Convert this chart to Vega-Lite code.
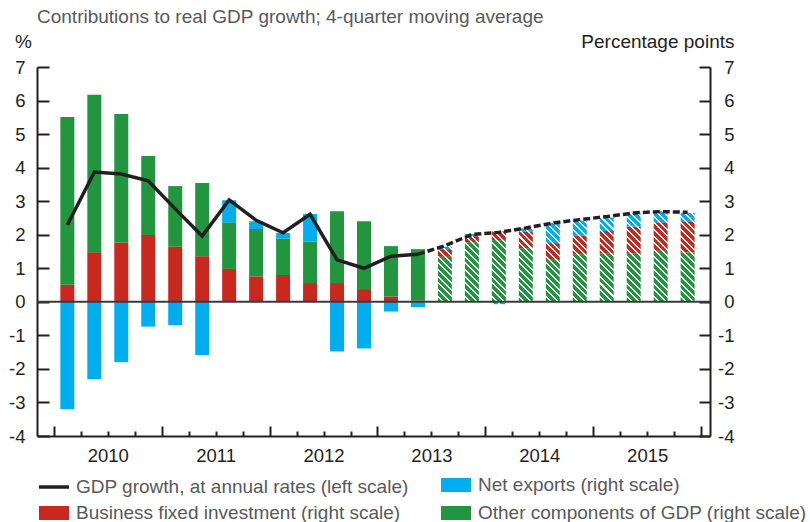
{
  "$schema": "https://vega.github.io/schema/vega-lite/v6.json",
  "width": 673,
  "height": 369,
  "autosize": {"type": "none"},
  "padding": {"left": 37, "top": 67, "right": 100, "bottom": 86},
  "background": "#ffffff",
  "config": {"view": {"stroke": null}, "font": "Liberation Sans"},
  "title": {"text": "Contributions to real GDP growth; 4-quarter moving average", "anchor": "start", "frame": "group", "orient": "top", "offset": 10, "dy": 20, "baseline": "alphabetic", "font": "Liberation Sans", "fontSize": 19, "fontWeight": "normal", "color": "#58595b"},
  "data": {"values": [
    {"q": 2010.125, "bfi": 0.51, "oth": 5.00, "net": -3.20, "gdp": 2.29, "phase": "actual"},
    {"q": 2010.375, "bfi": 1.48, "oth": 4.69, "net": -2.31, "gdp": 3.87, "phase": "actual"},
    {"q": 2010.625, "bfi": 1.77, "oth": 3.83, "net": -1.80, "gdp": 3.81, "phase": "actual"},
    {"q": 2010.875, "bfi": 1.99, "oth": 2.36, "net": -0.74, "gdp": 3.61, "phase": "actual"},
    {"q": 2011.125, "bfi": 1.64, "oth": 1.81, "net": -0.70, "gdp": 2.77, "phase": "actual"},
    {"q": 2011.375, "bfi": 1.36, "oth": 2.18, "net": -1.59, "gdp": 1.96, "phase": "actual"},
    {"q": 2011.625, "bfi": 0.98, "oth": 1.39, "net": 0.66, "gdp": 3.04, "phase": "actual"},
    {"q": 2011.875, "bfi": 0.76, "oth": 1.41, "net": 0.23, "gdp": 2.43, "phase": "actual"},
    {"q": 2012.125, "bfi": 0.80, "oth": 1.09, "net": 0.16, "gdp": 2.06, "phase": "actual"},
    {"q": 2012.375, "bfi": 0.56, "oth": 1.24, "net": 0.82, "gdp": 2.61, "phase": "actual"},
    {"q": 2012.625, "bfi": 0.56, "oth": 2.14, "net": -1.48, "gdp": 1.25, "phase": "actual"},
    {"q": 2012.875, "bfi": 0.38, "oth": 2.02, "net": -1.39, "gdp": 1.00, "phase": "actual"},
    {"q": 2013.125, "bfi": 0.16, "oth": 1.50, "net": -0.29, "gdp": 1.36, "phase": "actual"},
    {"q": 2013.375, "bfi": 0.04, "oth": 1.53, "net": -0.16, "gdp": 1.42, "phase": "actual"},
    {"q": 2013.625, "bfi": 0.23, "oth": 1.34, "net": 0.07, "gdp": 1.67, "phase": "forecast"},
    {"q": 2013.875, "bfi": 0.18, "oth": 1.78, "net": 0.06, "gdp": 2.01, "phase": "forecast"},
    {"q": 2014.125, "bfi": 0.26, "oth": 1.84, "net": -0.07, "gdp": 2.07, "phase": "forecast"},
    {"q": 2014.375, "bfi": 0.50, "oth": 1.60, "net": 0.09, "gdp": 2.20, "phase": "forecast"},
    {"q": 2014.625, "bfi": 0.50, "oth": 1.25, "net": 0.60, "gdp": 2.35, "phase": "forecast"},
    {"q": 2014.875, "bfi": 0.56, "oth": 1.42, "net": 0.44, "gdp": 2.45, "phase": "forecast"},
    {"q": 2015.125, "bfi": 0.66, "oth": 1.45, "net": 0.40, "gdp": 2.54, "phase": "forecast"},
    {"q": 2015.375, "bfi": 0.79, "oth": 1.45, "net": 0.40, "gdp": 2.65, "phase": "forecast"},
    {"q": 2015.625, "bfi": 0.85, "oth": 1.52, "net": 0.33, "gdp": 2.69, "phase": "forecast"},
    {"q": 2015.875, "bfi": 0.91, "oth": 1.47, "net": 0.27, "gdp": 2.67, "phase": "forecast"}
  ]},
  "layer": [
    {
      "transform": [
        {"filter": "datum.phase === 'actual'"},
        {"fold": ["bfi", "oth", "net"], "as": ["series", "value"]},
        {"calculate": "indexof(['bfi','oth','net'], datum.series)", "as": "ord"}
      ],
      "mark": {"type": "bar", "orient": "vertical", "size": 14},
      "encoding": {
        "x": {"field": "q", "type": "quantitative", "scale": {"domain": [2009.89, 2016.036], "nice": false, "zero": false},
          "axis": {"orient": "bottom", "values": [2010.5, 2011.5, 2012.5, 2013.5, 2014.5, 2015.5], "ticks": false, "grid": false, "domain": true, "domainColor": "#231f20", "domainWidth": 2, "labelExpr": "floor(datum.value)", "labelFont": "Liberation Sans", "labelFontSize": 18.5, "labelColor": "#231f20", "labelPadding": 25, "labelBaseline": "alphabetic", "labelFlush": false, "labelOverlap": false, "title": null}},
        "y": {"field": "value", "type": "quantitative", "stack": "zero", "scale": {"domain": [-4, 7], "nice": false, "zero": false},
          "axis": {"orient": "right", "values": [-4, -3, -2, -1, 0, 1, 2, 3, 4, 5, 6, 7], "tickSize": -11, "tickWidth": 2, "tickColor": "#231f20", "domainColor": "#231f20", "domainWidth": 2, "labelExpr": "'' + datum.value", "labelFont": "Liberation Sans", "labelFontSize": 18.5, "labelColor": "#231f20", "labelAlign": "right", "labelPadding": 35, "labelFlush": false, "grid": false, "title": "Percentage points", "titleAngle": 0, "titleFont": "Liberation Sans", "titleFontSize": 19, "titleFontWeight": "normal", "titleColor": "#231f20", "titleAlign": "right", "titleBaseline": "alphabetic", "titleX": 24, "titleY": -20}},
        "color": {"field": "series", "type": "nominal",
          "scale": {"domain": ["gdp", "bfi", "net", "oth"], "range": ["#231f20", "#c8281e", "#00aeef", "#22963f"]},
          "legend": {"orient": "none", "legendX": 4, "legendY": 405, "columns": 2, "columnPadding": 24, "rowPadding": 0, "padding": 0, "title": null,
            "symbolSize": 484, "symbolType": "M-1.364,-0.636H1.364V0.636H-1.364Z", "labelFont": "Liberation Sans", "labelFontSize": 19, "labelColor": "#58595b", "labelOffset": 9, "labelLimit": 0,
            "labelExpr": "datum.value === 'gdp' ? 'GDP growth, at annual rates (left scale)' : datum.value === 'net' ? 'Net exports (right scale)' : datum.value === 'bfi' ? 'Business fixed investment (right scale)' : 'Other components of GDP (right scale)'",
            "encode": {"symbols": {"update": {
              "shape": {"signal": "datum.value === 'gdp' ? 'M-1.364,0H1.364' : 'M-1.364,-0.636H1.364V0.636H-1.364Z'"},
              "stroke": {"signal": "datum.value === 'gdp' ? '#231f20' : 'transparent'"},
              "strokeWidth": {"value": 3.5}}}}}},
        "order": {"field": "ord", "type": "quantitative"}
      }
    },
    {
      "transform": [
        {"filter": "datum.phase === 'forecast'"},
        {"fold": ["bfi", "oth", "net"], "as": ["series", "value"]},
        {"calculate": "indexof(['oth','bfi','net'], datum.series)", "as": "ord"}
      ],
      "mark": {"type": "bar", "orient": "vertical", "size": 14,
        "fill": {"expr": "{gradient:'linear',x1:-(((min(datum.value_start,datum.value_end)*33.545)%6.7+6.7)%6.7)/14,y1:1,x2:14*93.8/(196+pow(abs(datum.value_end-datum.value_start)*33.545,2))-(((min(datum.value_start,datum.value_end)*33.545)%6.7+6.7)%6.7)/14,y2:1-93.8*abs(datum.value_end-datum.value_start)*33.545/(196+pow(abs(datum.value_end-datum.value_start)*33.545,2)),stops:[{offset:0,color:scale('color',datum.series)},{offset:0.05,color:scale('color',datum.series)},{offset:0.05,color:'#fff'},{offset:0.071429,color:'#fff'},{offset:0.071429,color:scale('color',datum.series)},{offset:0.121429,color:scale('color',datum.series)},{offset:0.121429,color:'#fff'},{offset:0.142857,color:'#fff'},{offset:0.142857,color:scale('color',datum.series)},{offset:0.192857,color:scale('color',datum.series)},{offset:0.192857,color:'#fff'},{offset:0.214286,color:'#fff'},{offset:0.214286,color:scale('color',datum.series)},{offset:0.264286,color:scale('color',datum.series)},{offset:0.264286,color:'#fff'},{offset:0.285714,color:'#fff'},{offset:0.285714,color:scale('color',datum.series)},{offset:0.335714,color:scale('color',datum.series)},{offset:0.335714,color:'#fff'},{offset:0.357143,color:'#fff'},{offset:0.357143,color:scale('color',datum.series)},{offset:0.407143,color:scale('color',datum.series)},{offset:0.407143,color:'#fff'},{offset:0.428571,color:'#fff'},{offset:0.428571,color:scale('color',datum.series)},{offset:0.478571,color:scale('color',datum.series)},{offset:0.478571,color:'#fff'},{offset:0.5,color:'#fff'},{offset:0.5,color:scale('color',datum.series)},{offset:0.55,color:scale('color',datum.series)},{offset:0.55,color:'#fff'},{offset:0.571429,color:'#fff'},{offset:0.571429,color:scale('color',datum.series)},{offset:0.621429,color:scale('color',datum.series)},{offset:0.621429,color:'#fff'},{offset:0.642857,color:'#fff'},{offset:0.642857,color:scale('color',datum.series)},{offset:0.692857,color:scale('color',datum.series)},{offset:0.692857,color:'#fff'},{offset:0.714286,color:'#fff'},{offset:0.714286,color:scale('color',datum.series)},{offset:0.764286,color:scale('color',datum.series)},{offset:0.764286,color:'#fff'},{offset:0.785714,color:'#fff'},{offset:0.785714,color:scale('color',datum.series)},{offset:0.835714,color:scale('color',datum.series)},{offset:0.835714,color:'#fff'},{offset:0.857143,color:'#fff'},{offset:0.857143,color:scale('color',datum.series)},{offset:0.907143,color:scale('color',datum.series)},{offset:0.907143,color:'#fff'},{offset:0.928571,color:'#fff'},{offset:0.928571,color:scale('color',datum.series)},{offset:0.978571,color:scale('color',datum.series)},{offset:0.978571,color:'#fff'},{offset:1,color:'#fff'}]}"}},
      "encoding": {
        "x": {"field": "q", "type": "quantitative", "scale": {"domain": [2009.89, 2016.036], "nice": false, "zero": false},
          "axis": {"orient": "bottom", "values": [2010.25, 2010.5, 2010.75, 2011.25, 2011.5, 2011.75, 2012.25, 2012.5, 2012.75, 2013.25, 2013.5, 2013.75, 2014.25, 2014.5, 2014.75, 2015.25, 2015.5, 2015.75], "ticks": true, "tickSize": -5, "tickWidth": 2, "tickColor": "#231f20", "labels": false, "domain": false, "grid": false, "title": null}},
        "y": {"field": "value", "type": "quantitative", "stack": "zero", "scale": {"domain": [-4, 7], "nice": false, "zero": false}, "axis": null},
        "detail": {"field": "series", "type": "nominal"},
        "order": {"field": "ord", "type": "quantitative"}
      }
    },
    {
      "data": {"values": [{}]},
      "mark": {"type": "rule", "color": "#3a3a3a", "strokeWidth": 2},
      "encoding": {"y": {"datum": 0, "type": "quantitative", "scale": {"domain": [-4, 7], "nice": false, "zero": false}, "axis": null}}
    },
    {
      "transform": [{"filter": "datum.phase === 'actual'"}],
      "mark": {"type": "line", "color": "#231f20", "strokeWidth": 3.5},
      "encoding": {
        "x": {"field": "q", "type": "quantitative", "scale": {"domain": [2009.89, 2016.036], "nice": false, "zero": false},
          "axis": {"orient": "bottom", "values": [2010, 2011, 2012, 2013, 2014, 2015, 2016], "ticks": true, "tickSize": -10, "tickWidth": 2, "tickColor": "#231f20", "labels": false, "domain": false, "grid": false, "title": null}},
        "y": {"field": "gdp", "type": "quantitative", "scale": {"domain": [-4, 7], "nice": false, "zero": false},
          "axis": {"orient": "left", "values": [-4, -3, -2, -1, 0, 1, 2, 3, 4, 5, 6, 7], "tickSize": -12, "tickWidth": 2, "tickColor": "#231f20", "domainColor": "#231f20", "domainWidth": 2, "labelExpr": "'' + datum.value", "labelFont": "Liberation Sans", "labelFontSize": 18.5, "labelColor": "#231f20", "labelPadding": 24, "labelFlush": false, "grid": false, "title": "%", "titleAngle": 0, "titleFont": "Liberation Sans", "titleFontSize": 19, "titleFontWeight": "normal", "titleColor": "#231f20", "titleAlign": "center", "titleBaseline": "alphabetic", "titleX": -14, "titleY": -20}}
      }
    },
    {
      "transform": [{"filter": "datum.q >= 2013.375"}],
      "mark": {"type": "line", "color": "#231f20", "strokeWidth": 3.5, "strokeDash": [7, 3]},
      "encoding": {
        "x": {"field": "q", "type": "quantitative", "scale": {"domain": [2009.89, 2016.036], "nice": false, "zero": false}, "axis": null},
        "y": {"field": "gdp", "type": "quantitative", "scale": {"domain": [-4, 7], "nice": false, "zero": false}, "axis": null}
      }
    }
  ],
  "resolve": {"scale": {"x": "shared", "y": "shared", "color": "shared"}, "axis": {"x": "independent", "y": "independent"}}
}
